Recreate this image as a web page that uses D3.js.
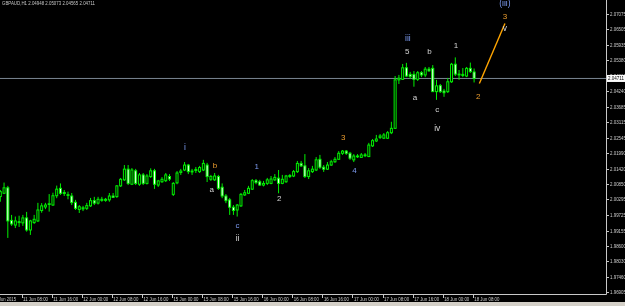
<!DOCTYPE html>
<html><head><meta charset="utf-8">
<script src="https://cdn.jsdelivr.net/npm/d3@7"></script>
<style>html,body{margin:0;padding:0;background:#000;overflow:hidden}svg{display:block}
.nolcd{opacity:0.99;will-change:transform}</style>
</head><body>
<svg id="c" width="625" height="306"></svg>
<script>
const title = "GBPAUD,H1  2.04948 2.05073 2.04565 2.04711";
// [open, high, low, close], H1 bars
const bars = [
[2.0040,2.0064,2.0021,2.0058],[2.0052,2.0091,2.0049,2.0072],[2.0072,2.0079,1.9889,1.9951],[1.9953,1.9973,1.9933,1.9940],
[1.9936,1.9967,1.9925,1.9951],[1.9948,1.9970,1.9929,1.9945],[1.9944,1.9973,1.9933,1.9962],[1.9962,1.9984,1.9912,1.9918],
[1.9918,1.9955,1.9900,1.9951],[1.9945,1.9973,1.9940,1.9957],[1.9951,2.0017,1.9947,1.9991],[1.9989,2.0016,1.9981,2.0006],
[2.0002,2.0017,1.9994,2.0009],[2.0011,2.0049,1.9985,2.0014],[2.0009,2.0054,2.0006,2.0043],[2.0043,2.0080,2.0034,2.0067],
[2.0070,2.0088,2.0046,2.0052],[2.0055,2.0064,2.0042,2.0051],[2.0044,2.0058,2.0030,2.0047],[2.0042,2.0053,2.0009,2.0018],
[2.0019,2.0028,1.9991,1.9997],[1.9993,2.0009,1.9980,2.0003],[1.9995,2.0006,1.9987,1.9999],[1.9997,2.0017,1.9991,2.0007],
[2.0006,2.0035,2.0002,2.0025],[2.0025,2.0039,2.0009,2.0016],[2.0016,2.0039,2.0011,2.0030],[2.0026,2.0039,2.0021,2.0030],
[2.0026,2.0035,2.0021,2.0030],[2.0028,2.0053,2.0021,2.0042],[2.0042,2.0053,2.0035,2.0037],[2.0040,2.0082,2.0035,2.0079],
[2.0079,2.0108,2.0075,2.0103],[2.0101,2.0155,2.0097,2.0140],[2.0140,2.0155,2.0082,2.0088],[2.0085,2.0144,2.0082,2.0137],
[2.0134,2.0141,2.0082,2.0088],[2.0085,2.0126,2.0079,2.0119],[2.0119,2.0126,2.0082,2.0088],[2.0088,2.0122,2.0084,2.0115],
[2.0113,2.0143,2.0108,2.0134],[2.0134,2.0141,2.0068,2.0085],[2.0082,2.0101,2.0075,2.0097],[2.0094,2.0111,2.0090,2.0103],
[2.0098,2.0126,2.0093,2.0119],[2.0113,2.0122,2.0097,2.0104],[2.0048,2.0093,2.0042,2.0088],[2.0090,2.0133,2.0085,2.0126],
[2.0128,2.0141,2.0119,2.0133],[2.0137,2.0166,2.0133,2.0155],[2.0155,2.0159,2.0122,2.0131],[2.0130,2.0141,2.0119,2.0133],
[2.0135,2.0148,2.0126,2.0139],[2.0131,2.0152,2.0126,2.0146],[2.0137,2.0174,2.0133,2.0161],[2.0155,2.0163,2.0093,2.0113],
[2.0103,2.0119,2.0097,2.0113],[2.0101,2.0126,2.0097,2.0115],[2.0113,2.0119,2.0064,2.0070],[2.0074,2.0088,2.0034,2.0042],
[2.0042,2.0049,2.0016,2.0025],[2.0028,2.0035,1.9973,2.0001],[2.0001,2.0009,1.9973,1.9989],[1.9991,2.0013,1.9967,2.0009],
[2.0006,2.0053,2.0002,2.0048],[2.0046,2.0064,2.0042,2.0054],[2.0052,2.0079,2.0049,2.0070],[2.0067,2.0104,2.0064,2.0098],
[2.0098,2.0104,2.0085,2.0091],[2.0094,2.0101,2.0079,2.0082],[2.0082,2.0097,2.0077,2.0088],[2.0088,2.0108,2.0082,2.0101],
[2.0088,2.0115,2.0085,2.0104],[2.0101,2.0122,2.0097,2.0110],[2.0107,2.0137,2.0052,2.0088],[2.0088,2.0119,2.0085,2.0103],
[2.0094,2.0119,2.0090,2.0115],[2.0113,2.0122,2.0108,2.0117],[2.0115,2.0137,2.0111,2.0131],[2.0131,2.0170,2.0126,2.0161],
[2.0161,2.0170,2.0148,2.0152],[2.0152,2.0195,2.0108,2.0113],[2.0113,2.0144,2.0104,2.0134],[2.0131,2.0152,2.0126,2.0140],
[2.0137,2.0184,2.0133,2.0174],[2.0176,2.0192,2.0141,2.0147],[2.0147,2.0155,2.0130,2.0140],[2.0140,2.0166,2.0137,2.0155],
[2.0155,2.0174,2.0152,2.0167],[2.0167,2.0184,2.0163,2.0176],[2.0176,2.0206,2.0174,2.0198],[2.0198,2.0210,2.0192,2.0206],
[2.0206,2.0210,2.0192,2.0198],[2.0198,2.0203,2.0174,2.0180],[2.0174,2.0195,2.0166,2.0188],[2.0188,2.0195,2.0181,2.0186],
[2.0183,2.0199,2.0181,2.0192],[2.0192,2.0199,2.0184,2.0189],[2.0186,2.0236,2.0184,2.0228],[2.0225,2.0250,2.0221,2.0244],
[2.0243,2.0265,2.0239,2.0250],[2.0256,2.0268,2.0250,2.0261],[2.0253,2.0272,2.0250,2.0265],[2.0253,2.0279,2.0250,2.0273],
[2.0273,2.0313,2.0268,2.0289],[2.0289,2.0480,2.0287,2.0466],[2.0466,2.0484,2.0451,2.0472],[2.0468,2.0524,2.0466,2.0510],
[2.0510,2.0528,2.0476,2.0480],[2.0486,2.0495,2.0469,2.0478],[2.0486,2.0498,2.0441,2.0468],[2.0468,2.0498,2.0462,2.0492],
[2.0492,2.0498,2.0476,2.0484],[2.0484,2.0513,2.0476,2.0505],[2.0505,2.0513,2.0495,2.0499],[2.0508,2.0520,2.0422,2.0423],
[2.0423,2.0466,2.0393,2.0444],[2.0445,2.0451,2.0418,2.0423],[2.0425,2.0433,2.0404,2.0419],[2.0423,2.0473,2.0418,2.0459],
[2.0459,2.0528,2.0455,2.0523],[2.0523,2.0548,2.0480,2.0487],[2.0487,2.0502,2.0466,2.0484],[2.0482,2.0509,2.0476,2.0486],
[2.0480,2.0513,2.0476,2.0508],[2.0508,2.0529,2.0491,2.0496],[2.04948,2.05073,2.04565,2.04711]
];
const priceTicks = [2.07075,2.06505,2.05935,2.05380,2.04810,2.04240,2.03685,2.03115,2.02545,2.01990,
  2.01420,2.00850,2.00295,1.99725,1.99155,1.98600,1.98030,1.97460,1.96905];
const timeLabels = ["10 Jun 2015","11 Jun 08:00","11 Jun 16:00","12 Jun 00:00","12 Jun 08:00","12 Jun 16:00",
  "15 Jun 00:00","15 Jun 08:00","15 Jun 16:00","16 Jun 00:00","16 Jun 08:00","16 Jun 16:00",
  "17 Jun 00:00","17 Jun 08:00","17 Jun 16:00","18 Jun 00:00","18 Jun 08:00"];
const timeLabelBars = [-2,6,14,22,30,38,46,54,62,70,78,86,94,102,110,118,126];
const lastPrice = 2.04711;
// Elliott wave projection line [bar index, price]
const waveLine = [[127.4,2.0453],[134.2,2.0672]];
// wave labels: text, bar index, price, colour group
const waveLabels = [
 ["i",49.1,2.0222,"blue"],["b",57.1,2.0155,"orange"],["a",56.2,2.0064,"white"],
 ["c",63.1,1.9934,"blue"],["ii",63.1,1.9888,"white"],["1",68.2,2.0149,"blue"],
 ["2",74.2,2.0034,"white"],["3",91.2,2.0256,"orange"],["4",94.2,2.0134,"blue"],
 ["iii",108.4,2.0618,"blue"],["5",108.2,2.0568,"white"],["b",114.1,2.0568,"white"],
 ["a",110.3,2.0401,"white"],["c",116.2,2.0356,"white"],["iv",116.2,2.0289,"white"],
 ["1",121.2,2.0590,"white"],["2",127.1,2.0407,"orange"],
 ["(iii)",134.2,2.0747,"blue"],["3",134.2,2.0699,"orange"],["v",134.2,2.0655,"white"]
];
const colors = {white:"#d8d8d8", blue:"#7e9cf2", orange:"#f0a030"};

const svg = d3.select("#c");
const W = 625, H = 306, plotR = 606, plotB = 294;
svg.append("rect").attr("width",W).attr("height",H).attr("fill","#000");

const x = d3.scaleLinear().domain([0,126]).range([0.3,474.1]);
const y = d3.scaleLinear().domain([1.96905,2.07075]).range([292.3,13.7]);

const g = svg.append("g");
// current price line
g.append("line").attr("x1",0).attr("x2",plotR).attr("y1",y(lastPrice)).attr("y2",y(lastPrice))
 .attr("stroke","#7a8592").attr("stroke-width",1);

const lime = "#00f000";
const cg = g.append("g");
bars.forEach((b,i)=>{
  const [o,h,l,c] = b;
  const cx = x(i);
  cg.append("line").attr("x1",cx).attr("x2",cx).attr("y1",y(h)).attr("y2",y(l)).attr("stroke",lime).attr("stroke-width",1);
  const top = y(Math.max(o,c)), bot = y(Math.min(o,c));
  cg.append("rect").attr("x",cx-1).attr("width",2).attr("y",top).attr("height",Math.max(bot-top,0.8))
    .attr("fill", c>=o ? "#000" : "#fff").attr("stroke",lime).attr("stroke-width",1);
});

// wave line
g.append("path").attr("d",d3.line().x(d=>x(d[0])).y(d=>y(d[1]))(waveLine))
 .attr("stroke","#ffa500").attr("stroke-width",1.4).attr("fill","none");

// wave labels
const tg = svg.append("g").attr("class","nolcd");
waveLabels.forEach(([t,i,p,col])=>{
  tg.append("text").attr("x",x(i)).attr("y",y(p)).attr("text-anchor","middle").attr("dominant-baseline","central")
   .attr("font-family","Liberation Sans, Arial, sans-serif").attr("font-size",/^[\(iv]/.test(t)?8.5:8).attr("fill",colors[col]).text(t);
});

// axes frame
svg.append("line").attr("x1",plotR+0.5).attr("x2",plotR+0.5).attr("y1",0).attr("y2",plotB+0.5).attr("stroke","#c8c8c8");
svg.append("line").attr("x1",0).attr("x2",plotR+0.5).attr("y1",plotB+0.5).attr("y2",plotB+0.5).attr("stroke","#c8c8c8");

const font = "Liberation Sans, Arial, sans-serif";
const ag = svg.append("g").attr("class","nolcd");
// price axis
priceTicks.forEach(v=>{
  ag.append("line").attr("x1",plotR).attr("x2",plotR+3).attr("y1",Math.round(y(v))+0.5).attr("y2",Math.round(y(v))+0.5).attr("stroke","#c8c8c8");
  ag.append("text").attr("x",610).attr("y",y(v)).attr("dominant-baseline","central").attr("font-family",font)
   .attr("font-size",5).attr("fill","#d0d0d0").attr("textLength",16).attr("lengthAdjust","spacingAndGlyphs").text(v.toFixed(5));
});
// current price tag
ag.append("rect").attr("x",607).attr("y",y(lastPrice)-3.5).attr("width",18).attr("height",7).attr("fill","#fff");
ag.append("text").attr("x",608).attr("y",y(lastPrice)).attr("dominant-baseline","central").attr("font-family",font)
 .attr("font-size",5).attr("fill","#000").attr("textLength",16).attr("lengthAdjust","spacingAndGlyphs").text(lastPrice.toFixed(5));

// time axis
timeLabels.forEach((t,k)=>{
  const tx = x(timeLabelBars[k]) - 1.3;
  ag.append("line").attr("x1",Math.round(tx)+0.5).attr("x2",Math.round(tx)+0.5).attr("y1",plotB).attr("y2",plotB+4).attr("stroke","#c8c8c8");
  const len = t.length===11 ? 23 : 25;
  ag.append("text").attr("x",tx+1.5).attr("y",298.5).attr("dominant-baseline","central").attr("font-family",font)
   .attr("font-size",5).attr("fill","#d0d0d0").attr("textLength",len).attr("lengthAdjust","spacingAndGlyphs").text(t);
});

// title
ag.append("text").attr("x",2).attr("y",3).attr("dominant-baseline","central").attr("font-family",font)
 .attr("font-size",4.5).attr("fill","#c8c8c8").attr("textLength",93).attr("lengthAdjust","spacingAndGlyphs").text(title);

// bottom tab strip
svg.append("rect").attr("x",0).attr("y",302).attr("width",W).attr("height",4).attr("fill","#d4d0c8");
</script>
</body></html>
